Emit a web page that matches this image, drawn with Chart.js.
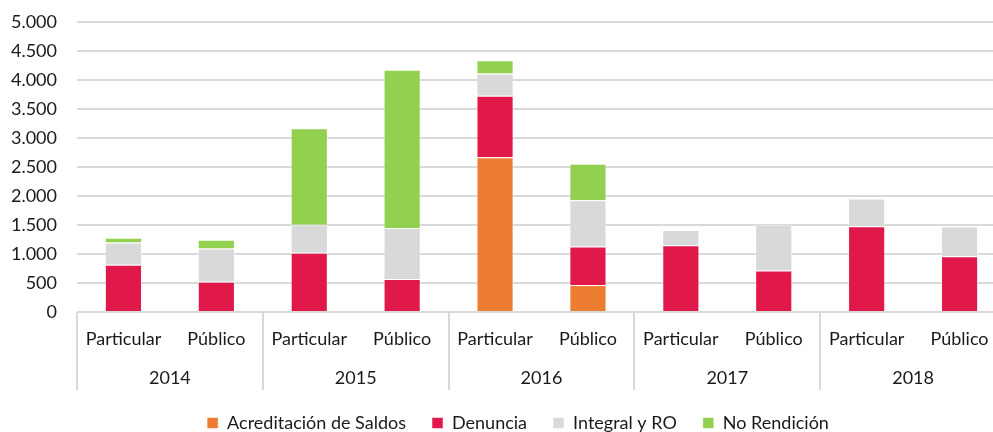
<!DOCTYPE html>
<html>
<head>
  <meta charset="utf-8">
  <title>Rendiciones por tipo</title>
  <script src="https://cdn.jsdelivr.net/npm/chart.js@4"></script>
  <style>
    html, body {
      margin: 0;
      padding: 0;
      overflow: hidden;
      background: #fff;
    }
    canvas {
      display: block;
    }
  </style>
</head>
<body>
  <canvas id="rendChart" width="1006" height="444"></canvas>

  <script>
    // categorias: cada año tiene Particular / Público
    const years = ['2014', '2015', '2016', '2017', '2018'];
    const tipos = ['Particular', 'Público'];
    const categories = years.flatMap(() => tipos);

    const acreditacion = [null, null, null, null, 2670, 465, null, null, null, null];
    const denuncia     = [815, 520, 1020, 570, 1060, 665, 1150, 715, 1480, 960];
    const integral     = [385, 575, 485, 880, 380, 795, 265, 790, 475, 515];
    const noRendicion  = [80, 150, 1665, 2725, 230, 630, null, null, null, null];

    const yTicks = { min: 0, max: 5000, step: 500 };

    const GRID = '#d9d9d9';

    Chart.defaults.font.family = 'Lato, "Open Sans", sans-serif';
    Chart.defaults.color = '#1a1a1a';

    // separadores verticales entre años, bajo el eje
    const yearSeparators = {
      id: 'yearSeparators',
      afterDraw(chart) {
        const x = chart.scales.x;
        const x2 = chart.scales.x2;
        const ctx = chart.ctx;
        ctx.save();
        ctx.strokeStyle = GRID;
        ctx.lineWidth = 2;
        for (let i = 0; i <= years.length; i++) {
          const px = Math.round(x2.getPixelForValue(i - 0.5));
          ctx.beginPath();
          ctx.moveTo(px, x.top);
          ctx.lineTo(px, x2.bottom);
          ctx.stroke();
        }
        ctx.restore();
      }
    };

    // acomoda la leyenda (sube y corre un poco a la derecha)
    const legendNudge = {
      id: 'legendNudge',
      afterLayout(chart) {
        const lg = chart.legend;
        if (!lg) return;
        lg.top -= 2; lg.bottom -= 2;
        lg.left += 11; lg.right += 11;
      }
    };

    const bar = (label, data, color) => ({
      label: label,
      data: data,
      backgroundColor: color,
      borderColor: 'rgba(255,255,255,0.5)',
      borderWidth: 1,
      categoryPercentage: 1,
      barPercentage: 0.4
    });

    const ctx = document.getElementById('rendChart').getContext('2d');
    new Chart(ctx, {
      type: 'bar',
      data: {
        labels: categories,
        datasets: [
          bar('Acreditación de Saldos', acreditacion, '#ED7D31'),
          bar('Denuncia', denuncia, '#E0194A'),
          bar('Integral y RO', integral, '#D9D9D9'),
          bar('No Rendición', noRendicion, '#92D050')
        ]
      },
      options: {
        responsive: false,
        animation: false,
        layout: { padding: { left: 8, top: 22, right: 0, bottom: 0 } },
        plugins: {
          legend: {
            position: 'bottom',
            labels: {
              boxWidth: 11,
              boxHeight: 11,
              padding: 26,
              font: { size: 18 },
              color: '#1a1a1a'
            }
          },
          tooltip: { enabled: false }
        },
        scales: {
          x: {
            stacked: true,
            grid: { display: false, drawTicks: false },
            border: { display: false },
            ticks: {
              font: { size: 18, lineHeight: 1.2 },
              padding: 16.2,
              maxRotation: 0,
              autoSkip: false
            }
          },
          x2: {
            type: 'category',
            position: 'bottom',
            labels: years,
            offset: true,
            grid: { display: false, drawTicks: false },
            border: { display: false },
            ticks: {
              font: { size: 18, lineHeight: 0.8 },
              padding: 4.8,
              maxRotation: 0,
              autoSkip: false
            }
          },
          y: {
            stacked: true,
            min: yTicks.min,
            max: yTicks.max,
            afterFit(scale) { scale.width = 69; },
            grid: {
              color: GRID,
              lineWidth: 2,
              drawTicks: true,
              tickLength: 20,
              tickColor: 'rgba(0,0,0,0)'
            },
            border: { display: false },
            ticks: {
              stepSize: yTicks.step,
              padding: 0,
              font: { size: 18 },
              callback: v => String(v).replace(/\B(?=(\d{3})+(?!\d))/g, '.')
            }
          }
        }
      },
      plugins: [yearSeparators, legendNudge]
    });
  </script>
</body>
</html>
